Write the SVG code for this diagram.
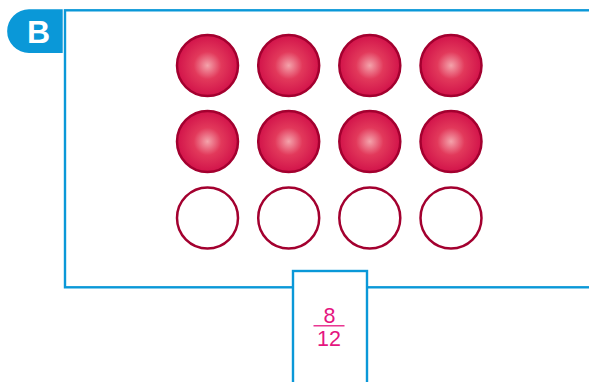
<svg xmlns="http://www.w3.org/2000/svg" width="589" height="382" viewBox="0 0 589 382">
  <defs>
    <radialGradient id="ball" cx="0.5" cy="0.5" r="0.5">
      <stop offset="0" stop-color="#f4a3ab"/>
      <stop offset="0.45" stop-color="#e2395b"/>
      <stop offset="1" stop-color="#d2134a"/>
    </radialGradient>
    <style>
      .frame { fill: none; stroke: #0a98d8; stroke-width: 2.4; }
      .full { fill: url(#ball); stroke: #a3002f; stroke-width: 2.5; }
      .empty { fill: #ffffff; stroke: #a3002f; stroke-width: 2.5; }
      .frac { font-family: "Liberation Sans", Arial, sans-serif; font-size: 21.5px; fill: #e5157f; text-anchor: middle; }
    </style>
  </defs>

  <g id="frame">
    <rect class="frame" x="65" y="10.3" width="560" height="277"/>
  </g>

  <g id="badge">
    <path d="M29,9.3 H62.7 V53 H29 A21.85,21.85 0 0 1 29,9.3 Z" fill="#0a98d8"/>
    <text x="38.5" y="43.3" font-family="Liberation Sans, Arial, sans-serif" font-weight="bold" font-size="32" fill="#ffffff" text-anchor="middle">B</text>
  </g>

  <g id="counters">
    <circle class="full" cx="207.5" cy="65.5" r="30.5"/>
    <circle class="full" cx="288.7" cy="65.5" r="30.5"/>
    <circle class="full" cx="369.8" cy="65.5" r="30.5"/>
    <circle class="full" cx="451" cy="65.5" r="30.5"/>
    <circle class="full" cx="207.5" cy="141.5" r="30.5"/>
    <circle class="full" cx="288.7" cy="141.5" r="30.5"/>
    <circle class="full" cx="369.8" cy="141.5" r="30.5"/>
    <circle class="full" cx="451" cy="141.5" r="30.5"/>
    <circle class="empty" cx="207.5" cy="218" r="30.5"/>
    <circle class="empty" cx="288.7" cy="218" r="30.5"/>
    <circle class="empty" cx="369.8" cy="218" r="30.5"/>
    <circle class="empty" cx="451" cy="218" r="30.5"/>
  </g>

  <g id="label">
    <rect x="293" y="271" width="74" height="120" fill="#ffffff" stroke="#0a98d8" stroke-width="2.4"/>
    <text class="frac" x="329.5" y="322.7">8</text>
    <line x1="313.5" y1="325.8" x2="344.5" y2="325.8" stroke="#e5157f" stroke-width="1.3"/>
    <text class="frac" x="329" y="345.7">12</text>
  </g>
</svg>
